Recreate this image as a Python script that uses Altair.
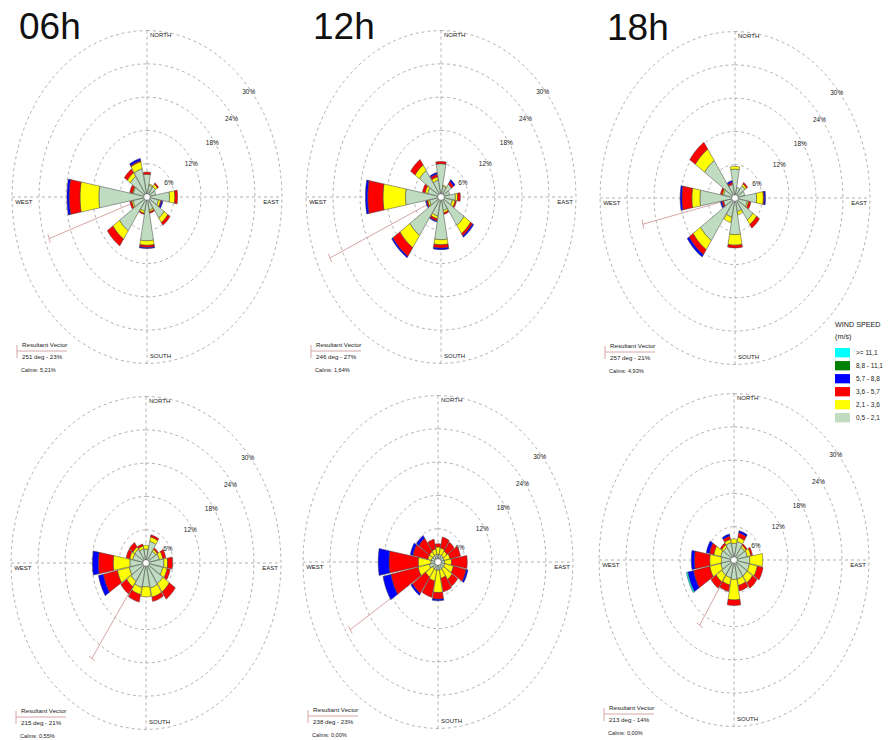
import altair as alt
import pandas as pd

# ---------------------------------------------------------------------------
# Data
# ---------------------------------------------------------------------------
DIRECTIONS = ["N", "NNE", "NE", "ENE", "E", "ESE", "SE", "SSE",
              "S", "SSW", "SW", "WSW", "W", "WNW", "NW", "NNW"]

# legend order (fastest class first) and colours
SPEED_CLASSES = [">= 11,1", "8,8 - 11,1", "5,7 -  8,8", "3,6 - 5,7", "2,1 - 3,6", "0,5 - 2,1"]
SPEED_COLORS = ["#00FFFF", "#008000", "#0000FF", "#FF0000", "#FFFF00", "#C0DCC0"]
# stacking order from the centre outwards
STACK_ORDER = SPEED_CLASSES[::-1]

RING_LEVELS = [6, 12, 18, 24, 30]
HOURS = ["06h", "12h", "18h"]

# frequency (%) per direction for each speed class, listed N -> NNW
ROSE_06H_TOP = {
    "0,5 - 2,1": [4.1, 2.2, 2.3, 2.0, 5.0, 2.6, 4.6, 2.4, 7.9, 2.6, 7.4, 3.2, 10.7, 3.1, 4.5, 5.2],
    "2,1 - 3,6": [0.0, 0.2, 0.5, 0.0, 1.2, 0.5, 1.0, 0.3, 0.8, 0.4, 1.8, 0.3, 4.2, 0.2, 0.8, 1.3],
    "3,6 - 5,7": [0.4, 0.0, 0.3, 0.0, 0.6, 0.2, 0.6, 0.3, 0.4, 0.2, 1.5, 0.4, 2.4, 0.6, 0.8, 0.2],
    "5,7 -  8,8": [0.0, 0.0, 0.0, 0.0, 0.0, 0.3, 0.0, 0.0, 0.2, 0.0, 0.0, 0.0, 0.5, 0.0, 0.0, 0.4],
}
ROSE_12H_TOP = {
    "0,5 - 2,1": [6.0, 2.0, 2.8, 2.0, 3.2, 2.6, 6.2, 2.5, 7.7, 3.5, 8.4, 2.6, 7.9, 3.0, 5.8, 3.1],
    "2,1 - 3,6": [0.0, 0.2, 0.0, 0.0, 0.5, 0.6, 1.8, 0.4, 0.9, 0.5, 2.7, 0.4, 5.0, 0.6, 1.2, 0.6],
    "3,6 - 5,7": [0.4, 0.0, 0.6, 0.0, 0.6, 0.3, 0.5, 0.3, 0.6, 0.4, 1.9, 0.3, 3.4, 0.6, 1.2, 0.5],
    "5,7 -  8,8": [0.0, 0.0, 0.4, 0.0, 0.0, 0.0, 0.3, 0.0, 0.3, 0.2, 0.3, 0.2, 0.5, 0.0, 0.0, 0.3],
}
ROSE_18H_TOP = {
    "0,5 - 2,1": [5.2, 2.0, 2.7, 2.2, 4.8, 2.8, 4.8, 2.5, 6.6, 3.5, 9.3, 2.6, 7.8, 2.6, 8.2, 2.5],
    "2,1 - 3,6": [0.5, 0.0, 0.4, 0.0, 1.5, 0.3, 1.0, 0.6, 1.9, 1.0, 2.0, 0.0, 1.8, 0.3, 2.5, 0.0],
    "3,6 - 5,7": [0.0, 0.0, 0.3, 0.0, 0.2, 0.5, 0.8, 0.0, 0.5, 0.0, 1.1, 0.4, 2.2, 0.4, 1.5, 0.4],
    "5,7 -  8,8": [0.0, 0.0, 0.0, 0.0, 0.3, 0.0, 0.0, 0.0, 0.0, 0.0, 0.5, 0.3, 0.4, 0.0, 0.0, 0.3],
}
ROSE_06H_BOTTOM = {
    "0,5 - 2,1": [2.5, 4.0, 2.6, 3.0, 4.0, 3.8, 4.5, 4.6, 4.3, 4.5, 4.0, 3.8, 3.6, 3.0, 3.0, 2.6],
    "2,1 - 3,6": [0.7, 0.8, 0.4, 0.8, 0.8, 1.0, 1.8, 1.7, 1.8, 1.3, 1.2, 2.7, 3.7, 0.7, 0.5, 0.5],
    "3,6 - 5,7": [0.0, 0.4, 0.3, 0.7, 1.1, 0.7, 1.6, 0.8, 0.0, 1.4, 1.6, 3.2, 3.3, 0.8, 1.0, 0.4],
    "5,7 -  8,8": [0.0, 0.0, 0.0, 0.0, 0.0, 0.0, 0.0, 0.0, 0.0, 0.0, 0.0, 1.1, 1.3, 0.0, 0.0, 0.0],
}
ROSE_12H_BOTTOM = {
    "0,5 - 2,1": [1.4, 1.4, 1.4, 1.4, 1.5, 1.5, 1.5, 1.5, 1.5, 1.5, 1.5, 2.0, 1.6, 1.5, 1.4, 1.4],
    "2,1 - 3,6": [1.3, 1.2, 1.0, 1.3, 1.5, 2.0, 2.3, 1.5, 4.0, 2.0, 1.8, 2.5, 2.8, 0.8, 0.9, 1.0],
    "3,6 - 5,7": [0.6, 2.0, 2.0, 2.4, 3.5, 2.9, 1.5, 2.5, 1.2, 3.0, 3.6, 6.2, 6.5, 3.4, 2.9, 1.8],
    "5,7 -  8,8": [0.0, 0.0, 0.0, 0.0, 0.0, 0.4, 0.0, 0.0, 0.3, 0.0, 0.4, 1.8, 2.4, 0.6, 0.6, 0.0],
}
ROSE_18H_BOTTOM = {
    "0,5 - 2,1": [3.0, 3.4, 2.8, 3.0, 3.5, 3.5, 3.5, 3.5, 3.5, 3.3, 3.3, 3.0, 2.8, 3.0, 2.8, 3.2],
    "2,1 - 3,6": [0.8, 0.8, 0.4, 0.8, 2.9, 1.8, 1.5, 1.2, 3.7, 1.3, 1.5, 2.5, 2.6, 1.6, 0.5, 0.6],
    "3,6 - 5,7": [0.0, 0.8, 0.3, 0.4, 0.0, 1.3, 1.2, 1.0, 1.0, 1.2, 1.4, 3.7, 3.4, 1.0, 0.4, 0.6],
    "5,7 -  8,8": [0.0, 0.4, 0.0, 0.0, 0.0, 0.0, 0.0, 0.0, 0.0, 0.0, 0.0, 1.3, 0.7, 0.7, 0.0, 0.4],
    ">= 11,1":   [0.0, 0.0, 0.0, 0.0, 0.0, 0.0, 0.0, 0.0, 0.0, 0.0, 0.0, 0.3, 0.0, 0.0, 0.0, 0.0],
}
ROSES = [ROSE_06H_TOP, ROSE_12H_TOP, ROSE_18H_TOP,
         ROSE_06H_BOTTOM, ROSE_12H_BOTTOM, ROSE_18H_BOTTOM]

VECTOR_DEG = [251, 246, 257, 215, 238, 213]
VECTOR_PCT = [23, 27, 21, 21, 23, 14]
CALMS = ["5,21", "1,64", "4,93", "0,55", "0,00", "0,00"]

# ---------------------------------------------------------------------------
# Layout
# ---------------------------------------------------------------------------
WIDTH, HEIGHT = 889, 740
PX_PER_PCT_X = 4.5      # horizontal pixels per percent
PX_PER_PCT_Y = 5.55     # vertical pixels per percent
PANEL_CENTERS_PX = [(147, 197), (441, 197), (735, 198),
                     (146, 563), (438, 562), (734, 560)]
SECTOR_HALF = 10.5      # half opening of a direction sector, degrees
ARC_PTS = 6             # points along each arc of a sector
FONT = "Liberation Sans"
GRID = "#a0a0a0"
VECTOR_COLOR = "#d6a6a6"

xs = alt.Scale(domain=[0, WIDTH / PX_PER_PCT_X], nice=False, zero=False)
ys = alt.Scale(domain=[0, HEIGHT / PX_PER_PCT_Y], nice=False, zero=False, reverse=True)


def ux(px):
    return px / PX_PER_PCT_X


def uy(px):
    return px / PX_PER_PCT_Y


centers = [(ux(cx), uy(cy)) for cx, cy in PANEL_CENTERS_PX]

# ---------------------------------------------------------------------------
# Tables
# ---------------------------------------------------------------------------
wedge_rows = []
for p, rose in enumerate(ROSES):
    cx, cy = centers[p]
    for ci, cls in enumerate(STACK_ORDER):
        vals = rose.get(cls, [0.0] * len(DIRECTIONS))
        for d, v in enumerate(vals):
            wedge_rows.append(dict(panel=p, dir=d, cls_idx=ci, speed=cls,
                                   value=v, cx=cx, cy=cy))
wedge_df = pd.DataFrame(wedge_rows)

ring_df = pd.DataFrame([dict(panel=p, ring=r, cx=c[0], cy=c[1])
                        for p, c in enumerate(centers) for r in RING_LEVELS])
cross_df = pd.DataFrame([dict(panel=p, horiz=h, cx=c[0], cy=c[1])
                         for p, c in enumerate(centers) for h in (0, 1)])
panel_df = pd.DataFrame([dict(panel=p, cx=c[0], cy=c[1], deg=VECTOR_DEG[p],
                              pct=VECTOR_PCT[p], calms=CALMS[p])
                         for p, c in enumerate(centers)])
ring_label_df = ring_df.assign(label=ring_df["ring"].astype(str) + "%")

info_rows = []
for p, (cx, cy) in enumerate(centers):
    info_rows += [
        dict(panel=p, text="Resultant Vector", x=cx - ux(125), y=cy + uy(148), size=6.2),
        dict(panel=p, text=f"{VECTOR_DEG[p]} deg - {VECTOR_PCT[p]}%", x=cx - ux(125), y=cy + uy(160), size=6.2),
        dict(panel=p, text=f"Calms: {CALMS[p]}%", x=cx - ux(126), y=cy + uy(173), size=5.6),
    ]
info_df = pd.DataFrame(info_rows)

sample_rows = []
for p, (cx, cy) in enumerate(centers):
    sample_rows += [
        dict(panel=p, x1=cx - ux(130), x2=cx - ux(80), y1=cy + uy(154), y2=cy + uy(154)),
        dict(panel=p, x1=cx - ux(130), x2=cx - ux(130), y1=cy + uy(148), y2=cy + uy(161)),
    ]
sample_df = pd.DataFrame(sample_rows)

title_df = pd.DataFrame([dict(text=h, x=centers[i][0] - ux(128), y=centers[i][1] - uy(158))
                         for i, h in enumerate(HOURS)])

# ---------------------------------------------------------------------------
# Layers
# ---------------------------------------------------------------------------
X = lambda f: alt.X(f, scale=xs, axis=None)
Y = lambda f: alt.Y(f, scale=ys, axis=None)

rings = alt.Chart(ring_df).transform_calculate(
    k="sequence(0, 73)"
).transform_flatten(["k"]).transform_calculate(
    a="datum.k * 5 * PI / 180",
    rid="datum.panel * 100 + datum.ring",
).transform_calculate(
    px="datum.cx + datum.ring * sin(datum.a)",
    py="datum.cy - datum.ring * cos(datum.a)",
).mark_line(color=GRID, strokeWidth=0.8, strokeDash=[3, 3]).encode(
    x=X("px:Q"), y=Y("py:Q"), detail="rid:N", order="k:Q"
)

cross = alt.Chart(cross_df).transform_calculate(
    x1="datum.cx - 30 * datum.horiz", x2="datum.cx + 30 * datum.horiz",
    y1="datum.cy - 30 * (1 - datum.horiz)", y2="datum.cy + 30 * (1 - datum.horiz)",
).mark_rule(color=GRID, strokeWidth=0.8, strokeDash=[3, 3]).encode(
    x=X("x1:Q"), x2="x2:Q", y=Y("y1:Q"), y2="y2:Q"
)

ring_labels = alt.Chart(ring_label_df).transform_calculate(
    a="(50 + (30 - datum.ring) * 0.5) * PI / 180",
).transform_calculate(
    px="datum.cx + (datum.ring - 0.5) * sin(datum.a)",
    py="datum.cy - (datum.ring - 0.5) * cos(datum.a)",
).mark_text(font=FONT, fontSize=6.5, color="#222").encode(
    x=X("px:Q"), y=Y("py:Q"), text="label:N"
)

north = alt.Chart(panel_df).transform_calculate(py="datum.cy - 29.2", t="'NORTH'").mark_text(
    font=FONT, fontSize=6, color="#222", align="left", dx=3).encode(
    x=X("cx:Q"), y=Y("py:Q"), text="t:N")
south = alt.Chart(panel_df).transform_calculate(py="datum.cy + 28.6", t="'SOUTH'").mark_text(
    font=FONT, fontSize=6, color="#222", align="left", dx=3).encode(
    x=X("cx:Q"), y=Y("py:Q"), text="t:N")
west = alt.Chart(panel_df).transform_calculate(px="datum.cx - 29.3", t="'WEST'").mark_text(
    font=FONT, fontSize=6, color="#222", align="left", dy=5).encode(
    x=X("px:Q"), y=Y("cy:Q"), text="t:N")
east = alt.Chart(panel_df).transform_calculate(px="datum.cx + 29.3", t="'EAST'").mark_text(
    font=FONT, fontSize=6, color="#222", align="right", dy=5).encode(
    x=X("px:Q"), y=Y("cy:Q"), text="t:N")

vec = alt.Chart(panel_df).transform_calculate(
    a="datum.deg * PI / 180"
).transform_calculate(
    ex="datum.cx + datum.pct * sin(datum.a)",
    ey="datum.cy - datum.pct * cos(datum.a)",
)
vector_line = vec.mark_rule(color=VECTOR_COLOR, strokeWidth=1).encode(
    x=X("cx:Q"), y=Y("cy:Q"), x2="ex:Q", y2="ey:Q")
vector_tick = vec.transform_calculate(
    tx1="datum.ex - 0.8 * cos(datum.a)", tx2="datum.ex + 0.8 * cos(datum.a)",
    ty1="datum.ey - 0.8 * sin(datum.a)", ty2="datum.ey + 0.8 * sin(datum.a)",
).mark_rule(color=VECTOR_COLOR, strokeWidth=1).encode(
    x=X("tx1:Q"), y=Y("ty1:Q"), x2="tx2:Q", y2="ty2:Q")

step = 2 * SECTOR_HALF / (ARC_PTS - 1)
wedges = alt.Chart(wedge_df).transform_filter("datum.value > 0").transform_stack(
    stack="value", groupby=["panel", "dir"],
    sort=[alt.SortField("cls_idx", order="ascending")], as_=["r0", "r1"],
).transform_calculate(
    k=f"sequence(0, {2 * ARC_PTS})"
).transform_flatten(["k"]).transform_calculate(
    a=(f"(datum.dir * 22.5 + (datum.k < {ARC_PTS} ? -{SECTOR_HALF} + datum.k * {step}"
       f" : {SECTOR_HALF} - (datum.k - {ARC_PTS}) * {step})) * PI / 180"),
    rr=f"datum.k < {ARC_PTS} ? datum.r1 : datum.r0",
    seg="datum.panel + '-' + datum.dir + '-' + datum.cls_idx",
).transform_calculate(
    px="datum.cx + datum.rr * sin(datum.a)",
    py="datum.cy - datum.rr * cos(datum.a)",
).mark_line(filled=True, interpolate="linear-closed", stroke="#404040",
            strokeWidth=0.5, opacity=1).encode(
    x=X("px:Q"), y=Y("py:Q"),
    color=alt.Color("speed:N", scale=alt.Scale(domain=SPEED_CLASSES, range=SPEED_COLORS),
                    legend=alt.Legend(
                        title=["WIND SPEED", "(m/s)"], orient="none",
                        legendX=835, legendY=321, padding=0,
                        titleFont=FONT, titleFontSize=7.2, titleFontWeight="normal",
                        titleColor="#222", titleLineHeight=12, titlePadding=5,
                        labelFont=FONT, labelFontSize=6.5, labelColor="#222",
                        labelOffset=6, rowPadding=0,
                        symbolType="M-1,-0.62H1V0.62H-1Z", symbolSize=225,
                        symbolStrokeWidth=0, symbolOpacity=1)),
    detail="seg:N", order="k:Q",
)

calm_circle = alt.Chart(panel_df).mark_point(
    shape="circle", filled=True, fill="white", stroke="#505050", strokeWidth=0.6,
    size=45, opacity=1).encode(x=X("cx:Q"), y=Y("cy:Q"))

info_text = alt.Chart(info_df).mark_text(font=FONT, align="left", color="#222").encode(
    x=X("x:Q"), y=Y("y:Q"), text="text:N", size=alt.Size("size:Q", scale=None, legend=None))

sample = alt.Chart(sample_df).mark_rule(color=VECTOR_COLOR, strokeWidth=1).encode(
    x=X("x1:Q"), x2="x2:Q", y=Y("y1:Q"), y2="y2:Q")

titles = alt.Chart(title_df).mark_text(font=FONT, fontSize=37, align="left",
                                       baseline="alphabetic", color="#111").encode(
    x=X("x:Q"), y=Y("y:Q"), text="text:N")

chart = alt.layer(
    rings, cross, ring_labels, north, south, west, east,
    vector_line, vector_tick, wedges, calm_circle, info_text, sample, titles,
).properties(
    width=WIDTH, height=HEIGHT, padding=0, autosize=alt.AutoSizeParams(type="none"),
    background="white",
).configure_view(stroke=None)

chart.save("out.html", embed_options={"renderer": "svg", "actions": False})
